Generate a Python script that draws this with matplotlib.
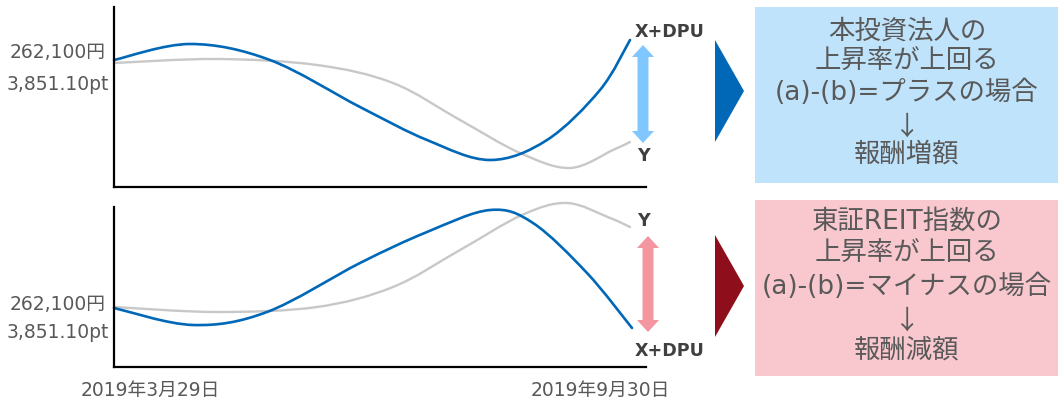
import numpy as np
import matplotlib
matplotlib.use('Agg')
import matplotlib.pyplot as plt
from matplotlib.patches import Polygon, Rectangle, PathPatch
from matplotlib.path import Path

plt.rcParams['font.family'] = ['DejaVu Sans', 'Noto Sans CJK JP']

# 上段：本投資法人(X+DPU) と 東証REIT指数(Y) の推移（読み取り値）
top_x = [0, 76, 156, 246, 313, 376, 433, 486, 516]
top_xdpu = [127, 143, 127, 80, 47, 27, 47, 97, 147]
top_gx = [0, 103, 203, 279, 346, 406, 456, 499, 516]
top_y = [124, 128, 122, 104, 67, 34, 19, 37, 45]

# 下段
bot_x = [0, 79, 153, 246, 313, 376, 419, 473, 518]
bot_xdpu = [59, 42, 55, 104, 135, 157, 144, 94, 39]
bot_gx = [0, 103, 203, 279, 346, 408, 453, 496, 516]
bot_y = [60, 55, 60, 80, 117, 152, 164, 149, 140]

start_labels = ['262,100円', '3,851.10pt']
date_labels = ['2019年3月29日', '2019年9月30日']
box_top = ['本投資法人の', '上昇率が上回る', '(a)-(b)=プラスの場合', '↓', '報酬増額']
box_bot = ['東証REIT指数の', '上昇率が上回る', '(a)-(b)=マイナスの場合', '↓', '報酬減額']

W, H = 1058, 400
BLUE = '#0068B7'
GRAY = '#C8C8C8'
TXT = '#595959'

fig = plt.figure(figsize=(W / 100, H / 100), dpi=100)


def panel(top_px, bot_px, ymax):
    ax = fig.add_axes([114 / W, 1 - bot_px / H, 532 / W, (bot_px - top_px) / H])
    ax.set_xlim(0, 532)
    ax.set_ylim(0, ymax)
    for s in ['top', 'right']:
        ax.spines[s].set_visible(False)
    for s in ['left', 'bottom']:
        ax.spines[s].set_linewidth(1.6)
        ax.spines[s].set_color('black')
    ax.set_xticks([])
    ax.set_yticks([])
    ax.patch.set_alpha(0)
    return ax


def smooth_line(ax, xs, ys, color, lw):
    # 滑らかな曲線（読み取り点を通るベジェ曲線）
    p = np.column_stack([xs, ys]).astype(float)
    ext = np.vstack([p[0], p, p[-1]])
    verts = [p[0]]
    codes = [Path.MOVETO]
    for i in range(1, len(ext) - 2):
        p0, p1, p2, p3 = ext[i - 1], ext[i], ext[i + 1], ext[i + 2]
        verts += [p1 + (p2 - p0) / 6, p2 - (p3 - p1) / 6, p2]
        codes += [Path.CURVE4] * 3
    ax.add_patch(PathPatch(Path(verts, codes), fill=False, edgecolor=color,
                           lw=lw, capstyle='round', clip_on=False))


ax1 = panel(7, 187, 180)
smooth_line(ax1, top_gx, top_y, GRAY, 1.7)
smooth_line(ax1, top_x, top_xdpu, BLUE, 1.9)

ax2 = panel(207, 367, 160)
smooth_line(ax2, bot_gx, bot_y, GRAY, 1.7)
smooth_line(ax2, bot_x, bot_xdpu, BLUE, 1.9)

# 全体の装飾（ピクセル座標）
ov = fig.add_axes([0, 0, 1, 1])
ov.set_xlim(0, W)
ov.set_ylim(H, 0)
ov.axis('off')
ov.patch.set_alpha(0)


def darrow(xc, y0, y1, color):
    hw, sw, hl = 11, 5.5, 12
    pts = [(xc, y0), (xc + hw, y0 + hl), (xc + sw, y0 + hl), (xc + sw, y1 - hl),
           (xc + hw, y1 - hl), (xc, y1), (xc - hw, y1 - hl), (xc - sw, y1 - hl),
           (xc - sw, y0 + hl), (xc - hw, y0 + hl)]
    ov.add_patch(Polygon(pts, closed=True, color=color, lw=0))


darrow(643, 45, 143, '#80C6FF')
darrow(648, 236, 332, '#F4959F')

ov.add_patch(Polygon([(715, 40), (715, 142), (744, 91)], color=BLUE, lw=0))
ov.add_patch(Polygon([(715, 235), (715, 337), (744, 286)], color='#8E0E1B', lw=0))

ov.add_patch(Rectangle((755, 7), 303, 176, color='#BEE3FB', lw=0))
ov.add_patch(Rectangle((755, 200), 303, 176, color='#F9C8CE', lw=0))

for lines, ys in [(box_top, [32, 62, 93, 127, 155]), (box_bot, [222, 254, 287, 321, 350])]:
    for txt, y in zip(lines, ys):
        fam = ['Noto Sans CJK JP'] if txt == '↓' else ['DejaVu Sans', 'Noto Sans CJK JP']
        ov.text(907, y, txt, ha='center', va='center', fontsize=19, color=TXT, family=fam)

lab = dict(family='DejaVu Sans', fontweight='bold', fontsize=12.6, color='#404040', va='center')
ov.text(635, 32, 'X+DPU', ha='left', **lab)
ov.text(643, 156, 'Y', ha='center', **lab)
ov.text(643, 221, 'Y', ha='center', **lab)
ov.text(635, 351, 'X+DPU', ha='left', **lab)

for ys in [(53, 84), (305, 332)]:
    for txt, y in zip(start_labels, ys):
        ov.text(58, y, txt, ha='center', va='center', fontsize=13.5, color=TXT)

for txt, x in zip(date_labels, [150, 600]):
    ov.text(x, 390, txt, ha='center', va='center', fontsize=13.5, color=TXT)

fig.savefig('out.png', dpi=100)
